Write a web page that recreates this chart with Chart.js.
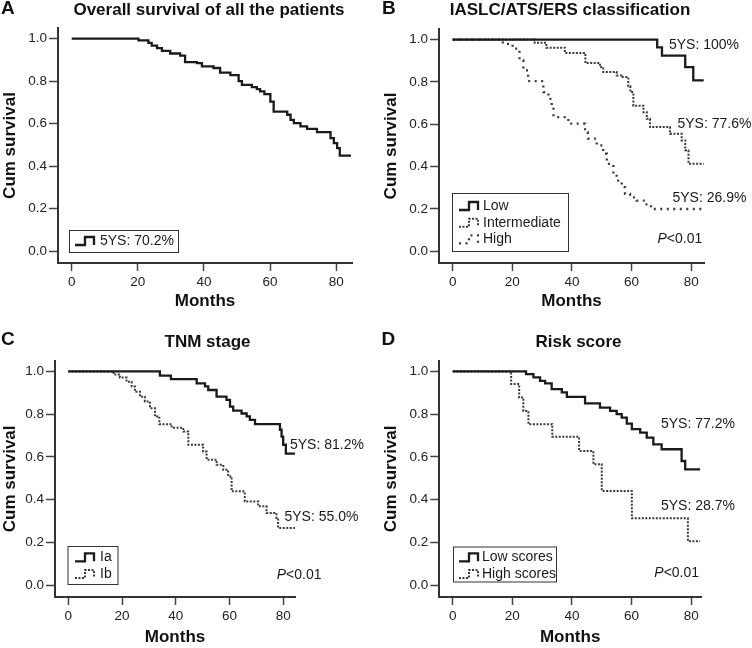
<!DOCTYPE html>
<html>
<head>
<meta charset="utf-8">
<script src="https://cdn.jsdelivr.net/npm/chart.js@4.4.1/dist/chart.umd.min.js"></script>
<style>
  body { margin: 0; background: #fff; }
  #wrap { position: relative; width: 752px; height: 648px; }
  .panel { position: absolute; width: 376px; height: 324px; }
</style>
</head>
<body>
<div id="wrap">
  <div class="panel" style="left:0;top:0"><canvas id="chartA" width="376" height="324"></canvas></div>
  <div class="panel" style="left:376px;top:0"><canvas id="chartB" width="376" height="324"></canvas></div>
  <div class="panel" style="left:0;top:324px"><canvas id="chartC" width="376" height="324"></canvas></div>
  <div class="panel" style="left:376px;top:324px"><canvas id="chartD" width="376" height="324"></canvas></div>
</div>
<script>
const FONT = '"Liberation Sans", Arial, sans-serif';

// axis ticks
const tickMonths = [0, 20, 40, 60, 80];
const tickSurvival = [0, 0.2, 0.4, 0.6, 0.8, 1.0];

// A - all patients
const allMonths = [0, 20.2, 23.2, 24.2, 25.8, 27.3, 29.8, 32.8, 34.3, 37.9, 39.4, 42.9, 44.9, 48.0, 50.5, 51.5, 54.5, 56.0, 57.0, 58.3, 60.1, 61.1, 65.2, 66.2, 67.2, 69.2, 71.2, 74.2, 78.3, 79.3, 80.3, 81.1, 84.5];
const allSurvival = [1, 0.992, 0.98, 0.967, 0.955, 0.942, 0.93, 0.92, 0.89, 0.885, 0.87, 0.862, 0.84, 0.828, 0.80, 0.783, 0.772, 0.763, 0.752, 0.739, 0.704, 0.657, 0.642, 0.618, 0.603, 0.587, 0.576, 0.56, 0.532, 0.509, 0.485, 0.45, 0.45];

// B - IASLC/ATS/ERS grades
const gradeNames = ['Low', 'Intermediate', 'High'];
const gradeRates = ['5YS: 100%', '5YS: 77.6%', '5YS: 26.9%'];
const lowMonths = [0, 68.6, 70.2, 78.0, 80.7, 84.2];
const lowSurvival = [1, 0.963, 0.924, 0.87, 0.807, 0.807];
const interMonths = [0, 27.5, 31.4, 37.6, 44.5, 49.4, 50.5, 55.0, 56.7, 58.9, 59.6, 60.6, 64.0, 65.1, 66.2, 72.9, 76.8, 78.0, 79.1, 84.2];
const interSurvival = [1, 0.985, 0.962, 0.937, 0.889, 0.87, 0.847, 0.831, 0.823, 0.78, 0.752, 0.688, 0.657, 0.626, 0.587, 0.555, 0.524, 0.477, 0.414, 0.414];
const highMonths = [0, 16.8, 20.1, 22.4, 23.7, 25.3, 30.4, 32.1, 33.2, 33.8, 38.8, 44.4, 45.3, 48.3, 50.5, 51.7, 53.9, 55.0, 56.7, 57.8, 59.5, 61.7, 64.5, 66.5, 84.2];
const highSurvival = [1, 0.98, 0.957, 0.902, 0.855, 0.804, 0.752, 0.72, 0.681, 0.634, 0.603, 0.563, 0.532, 0.50, 0.461, 0.413, 0.366, 0.334, 0.303, 0.271, 0.255, 0.24, 0.222, 0.20, 0.20];

// C - TNM stage
const stageNames = ['Ia', 'Ib'];
const stageRates = ['5YS: 81.2%', '5YS: 55.0%'];
const iaMonths = [0, 34.1, 38.2, 47.8, 50.9, 52.1, 55.2, 58.9, 60.2, 61.4, 64.5, 66.4, 67.6, 69.5, 78.8, 79.4, 80.0, 81.0, 84.4];
const iaSurvival = [1, 0.98, 0.964, 0.944, 0.93, 0.913, 0.882, 0.867, 0.835, 0.817, 0.803, 0.79, 0.773, 0.753, 0.727, 0.695, 0.657, 0.615, 0.615];
const ibMonths = [0, 16.8, 19.2, 21.7, 23.6, 24.8, 26.7, 28.5, 30.4, 32.3, 33.9, 38.5, 42.8, 44.7, 50.2, 51.5, 55.2, 57.7, 59.5, 60.8, 65.7, 70.7, 73.8, 77.5, 78.1, 84.4];
const ibSurvival = [1, 0.986, 0.971, 0.952, 0.929, 0.905, 0.882, 0.859, 0.828, 0.789, 0.753, 0.737, 0.719, 0.657, 0.625, 0.587, 0.563, 0.54, 0.509, 0.439, 0.392, 0.369, 0.338, 0.315, 0.268, 0.268];

// D - risk score
const scoreNames = ['Low scores', 'High scores'];
const scoreRates = ['5YS: 77.2%', '5YS: 28.7%'];
const lowScoreMonths = [0, 24.6, 27.1, 29.3, 31.0, 33.2, 36.6, 38.3, 44.4, 49.4, 52.8, 55.0, 56.7, 58.4, 60.1, 62.9, 65.1, 67.3, 70.1, 76.8, 78.0, 83.0];
const lowScoreSurvival = [1, 0.987, 0.972, 0.956, 0.944, 0.917, 0.902, 0.881, 0.85, 0.831, 0.815, 0.80, 0.784, 0.756, 0.73, 0.714, 0.69, 0.659, 0.636, 0.581, 0.542, 0.542];
const highScoreMonths = [0, 19.6, 22.3, 23.7, 25.4, 33.4, 42.4, 47.2, 50.0, 60.1, 78.9, 83.0];
const highScoreSurvival = [1, 0.941, 0.878, 0.815, 0.753, 0.694, 0.628, 0.566, 0.441, 0.313, 0.206, 0.206];

// line styles
const SOLID = { borderColor: '#1a1a1a', borderWidth: 2.3, borderDash: [] };
const DENSE = { borderColor: '#3a3a3a', borderWidth: 2, borderDash: [2, 1.5] };
const SPARSE = { borderColor: '#3a3a3a', borderWidth: 2.3, borderDash: [2, 4.5] };

function toPoints(months, surv) {
    return months.map((m, i) => ({ x: m, y: surv[i] }));
}

function series(label, months, surv, style) {
    return Object.assign({
        label: label,
        data: toPoints(months, surv),
        stepped: true,
        pointRadius: 0,
        fill: false,
        tension: 0
    }, style);
}

function drawGlyph(ctx, x, y, ds) {
    ctx.save();
    ctx.strokeStyle = ds.borderColor;
    ctx.lineWidth = ds.borderWidth;
    ctx.setLineDash(ds.borderDash);
    ctx.beginPath();
    ctx.moveTo(x, y + 4);
    ctx.lineTo(x + 10, y + 4);
    ctx.lineTo(x + 10, y - 4);
    ctx.lineTo(x + 19, y - 4);
    ctx.lineTo(x + 19, y + 4);
    ctx.stroke();
    ctx.restore();
}

// text, legend box and labels drawn on top of each panel
function notesPlugin(p) {
    return {
        id: 'notes',
        afterDraw(chart) {
            const ctx = chart.ctx;
            ctx.save();
            ctx.fillStyle = '#111';
            ctx.textBaseline = 'middle';
            ctx.textAlign = 'left';
            ctx.font = 'bold 19px ' + FONT;
            ctx.fillText(p.letter, p.letterX, p.letterY);
            ctx.textAlign = 'center';
            ctx.font = 'bold 17px ' + FONT;
            ctx.fillText(p.title, p.titleX, p.titleY);

            // legend
            const lg = p.legend;
            ctx.strokeStyle = '#333';
            ctx.lineWidth = 1;
            ctx.strokeRect(lg.x + 0.5, lg.y + 0.5, lg.w, lg.h);
            ctx.textAlign = 'left';
            ctx.font = '14px ' + FONT;
            ctx.fillStyle = '#1a1a1a';
            chart.data.datasets.forEach((ds, i) => {
                const ry = lg.rows[i];
                drawGlyph(ctx, lg.glyphX, ry, ds);
                ctx.fillText(lg.labels ? lg.labels[i] : ds.label, lg.textX, ry);
            });

            // 5-year survival labels
            p.rates.forEach(r => ctx.fillText(r.text, r.x, r.y));

            if (p.pValue) {
                ctx.font = 'italic 14px ' + FONT;
                ctx.fillText('P', p.pValue.x, p.pValue.y);
                const w = ctx.measureText('P').width;
                ctx.font = '14px ' + FONT;
                ctx.fillText('<0.01', p.pValue.x + w, p.pValue.y);
            }
            ctx.restore();
        }
    };
}

function makeScales(b) {
    return {
        x: {
            type: 'linear',
            min: b.xMin,
            max: b.xMax,
            afterBuildTicks: s => { s.ticks = tickMonths.map(v => ({ value: v })); },
            afterFit: s => { s.height = b.xH; },
            ticks: { font: { size: 13.5 }, color: '#222', padding: 3, maxRotation: 0, callback: v => String(v) },
            grid: { drawOnChartArea: false, drawTicks: true, tickLength: 8, tickColor: '#444', tickWidth: 1.5 },
            border: { color: '#333', width: 2 },
            title: { display: true, text: 'Months', font: { size: 17, weight: 'bold' }, color: '#111', padding: 0 }
        },
        y: {
            type: 'linear',
            min: -0.055,
            max: 1.05,
            afterBuildTicks: s => { s.ticks = tickSurvival.map(v => ({ value: v })); },
            afterFit: s => { s.width = b.yW; },
            ticks: { font: { size: 13.5 }, color: '#222', padding: 2, callback: v => v.toFixed(1) },
            grid: { drawOnChartArea: false, drawTicks: true, tickLength: 9, tickColor: '#444', tickWidth: 1.5 },
            border: { color: '#333', width: 2 },
            title: { display: true, text: 'Cum survival', font: { size: 17, weight: 'bold' }, color: '#111', padding: 0 }
        }
    };
}

function makeChart(id, datasets, box, notes) {
    const ctx = document.getElementById(id).getContext('2d');
    return new Chart(ctx, {
        type: 'line',
        data: { datasets: datasets },
        options: {
            responsive: false,
            animation: false,
            devicePixelRatio: 1,
            layout: { padding: box.pad },
            plugins: { legend: { display: false }, tooltip: { enabled: false } },
            scales: makeScales(box)
        },
        plugins: [notesPlugin(notes)]
    });
}

Chart.defaults.font.family = FONT;

// A
makeChart('chartA',
    [series('all', allMonths, allSurvival, SOLID)],
    { pad: { left: 0, top: 28, right: 24, bottom: 12 }, yW: 58, xH: 49, xMin: -4.15, xMax: 84.8 },
    {
        letter: 'A', letterX: 1, letterY: 9, title: 'Overall survival of all the patients', titleX: 209, titleY: 10,
        legend: { x: 69, y: 230, w: 109, h: 22, rows: [241], glyphX: 75, textX: 100, labels: ['5YS: 70.2%'] },
        rates: []
    });

// B
makeChart('chartB',
    [series(gradeNames[0], lowMonths, lowSurvival, SOLID),
     series(gradeNames[1], interMonths, interSurvival, DENSE),
     series(gradeNames[2], highMonths, highSurvival, SPARSE)],
    { pad: { left: 5.6, top: 29, right: 48, bottom: 12 }, yW: 57.4, xH: 49, xMin: -4.6, xMax: 84.3 },
    {
        letter: 'B', letterX: 6, letterY: 9, title: 'IASLC/ATS/ERS classification', titleX: 194, titleY: 10,
        legend: { x: 76, y: 193, w: 116, h: 58, rows: [206, 222.7, 239.3], glyphX: 83, textX: 107 },
        rates: [{ text: gradeRates[0], x: 293, y: 45 }, { text: gradeRates[1], x: 301.5, y: 124 }, { text: gradeRates[2], x: 296.5, y: 198.3 }],
        pValue: { x: 281.5, y: 239.3 }
    });

// C
makeChart('chartC',
    [series(stageNames[0], iaMonths, iaSurvival, SOLID),
     series(stageNames[1], ibMonths, ibSurvival, DENSE)],
    { pad: { left: 0, top: 36.7, right: 81, bottom: 0.5 }, yW: 55, xH: 50.5, xMin: -4.95, xMax: 84.4 },
    {
        letter: 'C', letterX: 1, letterY: 16, title: 'TNM stage', titleX: 207.5, titleY: 18.3,
        legend: { x: 67.5, y: 222, w: 50, h: 38, rows: [233.3, 250], glyphX: 75, textX: 100 },
        rates: [{ text: stageRates[0], x: 290, y: 121 }, { text: stageRates[1], x: 284.5, y: 193.3 }],
        pValue: { x: 276.7, y: 251 }
    });

// D
makeChart('chartD',
    [series(scoreNames[0], lowScoreMonths, lowScoreSurvival, SOLID),
     series(scoreNames[1], highScoreMonths, highScoreSurvival, DENSE)],
    { pad: { left: 5.6, top: 36.7, right: 51, bottom: 0.5 }, yW: 57.7, xH: 50.5, xMin: -4.5, xMax: 83.3 },
    {
        letter: 'D', letterX: 5.5, letterY: 16, title: 'Risk score', titleX: 202.5, titleY: 18.3,
        legend: { x: 77, y: 222.5, w: 103, h: 35, rows: [233.3, 250], glyphX: 83, textX: 106 },
        rates: [{ text: scoreRates[0], x: 285, y: 100 }, { text: scoreRates[1], x: 285, y: 181.7 }],
        pValue: { x: 278.3, y: 249.3 }
    });
</script>
</body>
</html>
